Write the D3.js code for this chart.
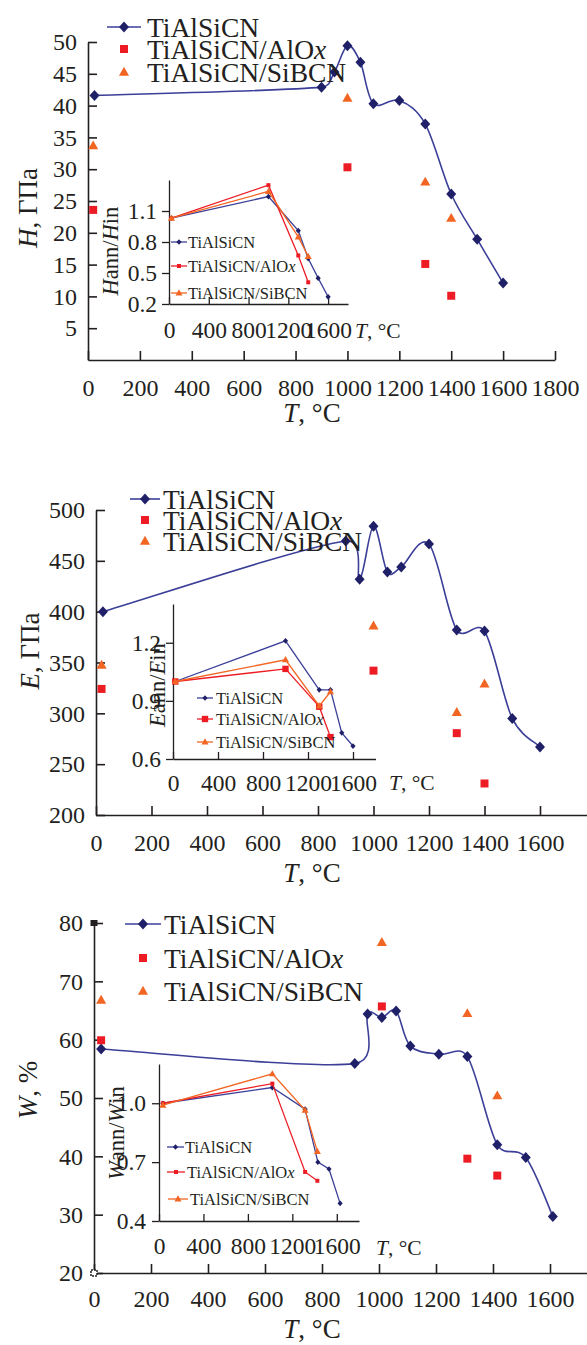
<!DOCTYPE html>
<html>
<head>
<meta charset="utf-8">
<script src="https://cdn.jsdelivr.net/npm/d3@7"></script>
<style>
  html, body { margin: 0; padding: 0; background: #fff; }
  svg { display: block; }
</style>
</head>
<body>
<svg id="chart" width="587" height="1345"></svg>
<script>
// ---------------- data ----------------
// Hardness H, GPa, against annealing temperature T, °C
const hTemps      = [25, 900, 950, 1000, 1050, 1100, 1200, 1300, 1400, 1500, 1600];
const hTiAlSiCN   = [41.6, 42.9, 45.3, 49.4, 46.8, 40.3, 40.8, 37.1, 26.1, 19.0, 12.1];
const hCoatTemps  = [20, 1000, 1300, 1400];
const hAlOx       = [23.6, 30.3, 15.1, 10.1];
const hSiBCN      = [33.7, 41.2, 28.0, 22.3];
// H_ann / H_in
const hRatioTemps     = [25, 1000, 1300, 1400, 1500, 1600];
const hRatioTiAlSiCN  = [1.03, 1.24, 0.91, 0.64, 0.45, 0.27];
const hRatioCoatTemps = [25, 1000, 1300, 1400];
const hRatioAlOx      = [1.03, 1.35, 0.67, 0.41];
const hRatioSiBCN     = [1.03, 1.29, 0.85, 0.66];

// Young's modulus E, GPa
const eTemps      = [25, 900, 950, 1000, 1050, 1100, 1200, 1300, 1400, 1500, 1600];
const eTiAlSiCN   = [400, 469.5, 432, 484, 439, 444, 466.5, 382, 381, 295, 267];
const eCoatTemps  = [20, 1000, 1300, 1400];
const eAlOx       = [324, 342, 280.5, 231];
const eSiBCN      = [347.5, 386, 301, 329];
// E_ann / E_in
const eRatioTemps     = [20, 1000, 1300, 1400, 1500, 1600];
const eRatioTiAlSiCN  = [1.0, 1.21, 0.957, 0.957, 0.735, 0.667];
const eRatioCoatTemps = [20, 1000, 1300, 1400];
const eRatioAlOx      = [1.0, 1.065, 0.87, 0.713];
const eRatioSiBCN     = [1.0, 1.112, 0.874, 0.947];

// Elastic recovery W, %
const wTemps      = [25, 915, 960, 1010, 1060, 1110, 1210, 1310, 1415, 1515, 1610];
const wTiAlSiCN   = [58.4, 55.9, 64.4, 63.8, 64.9, 58.9, 57.5, 57.1, 42.0, 39.8, 29.7];
const wCoatTemps  = [25, 1010, 1310, 1415];
const wAlOx       = [59.9, 65.7, 39.6, 36.7];
const wSiBCN      = [66.8, 76.7, 64.5, 50.4];
// W_ann / W_in
const wRatioTemps     = [35, 1020, 1315, 1430, 1530, 1630];
const wRatioTiAlSiCN  = [1.0, 1.08, 0.97, 0.70, 0.665, 0.49];
const wRatioCoatTemps = [35, 1020, 1315, 1425];
const wRatioAlOx      = [1.0, 1.10, 0.65, 0.605];
const wRatioSiBCN     = [0.99, 1.15, 0.965, 0.755];

const seriesNames = ['TiAlSiCN', 'TiAlSiCN/AlO', 'TiAlSiCN/SiBCN'];

// ---------------- style ----------------
const FONT = '"Liberation Serif", "Times New Roman", serif';
const INK = '#231f20';
const NAVY_LINE = '#3b3f98';
const NAVY_MARK = '#1f2068';
const RED = '#ed1c24';
const ORANGE = '#f26522';

const shapes = {
  diamond:  r => `M0,${-r * 1.1}L${r},0L0,${r * 1.1}L${-r},0Z`,
  square:   r => `M${-r},${-r}H${r}V${r}H${-r}Z`,
  triangle: r => `M0,${-r * 1.15}L${r * 1.1},${r * 0.8}L${-r * 1.1},${r * 0.8}Z`
};

const zip = (xs, ys) => xs.map((t, i) => ({ t, v: ys[i] }));

// Spreadsheet-style smoothed line: cubic Bezier segments with
// Catmull-Rom tangents, each handle limited to half its segment.
function smoothPath(pts) {
  const p = d3.path();
  const n = pts.length;
  p.moveTo(pts[0][0], pts[0][1]);
  for (let i = 0; i < n - 1; i++) {
    const p0 = pts[Math.max(i - 1, 0)], p1 = pts[i], p2 = pts[i + 1], p3 = pts[Math.min(i + 2, n - 1)];
    const seg = Math.hypot(p2[0] - p1[0], p2[1] - p1[1]);
    const limit = v => {
      const L = Math.hypot(v[0], v[1]), m = seg * 0.5;
      return L > m ? [v[0] * m / L, v[1] * m / L] : v;
    };
    const t1 = limit([(p2[0] - p0[0]) / 6, (p2[1] - p0[1]) / 6]);
    const t2 = limit([(p3[0] - p1[0]) / 6, (p3[1] - p1[1]) / 6]);
    p.bezierCurveTo(p1[0] + t1[0], p1[1] + t1[1], p2[0] - t2[0], p2[1] - t2[1], p2[0], p2[1]);
  }
  return p.toString();
}

const svg = d3.select('#chart').attr('font-family', FONT);

function richText(sel, parts) {
  parts.forEach(([s, it]) => sel.append('tspan').attr('font-style', it ? 'italic' : 'normal').text(s));
  return sel;
}

function styleAxis(g, fontSize, width) {
  g.attr('font-family', FONT).attr('font-size', fontSize);
  g.select('.domain').attr('stroke', INK).attr('stroke-width', width);
  g.selectAll('.tick line').attr('stroke', INK).attr('stroke-width', width);
  g.selectAll('.tick text').attr('fill', INK);
}

function drawMarkers(g, data, x, y, shape, r, color) {
  g.append('g').selectAll('path').data(data).join('path')
    .attr('transform', d => `translate(${x(d.t)},${y(d.v)})`)
    .attr('d', shapes[shape](r))
    .attr('fill', color);
}

function drawPanel(p) {
  const g = svg.append('g');
  const x = d3.scaleLinear().domain(p.xDomain).range(p.xRange);
  const y = d3.scaleLinear().domain(p.yDomain).range(p.yRange);

  // main axes (ticks point inward)
  const gx = g.append('g').attr('transform', `translate(0,${p.yRange[0]})`)
    .call(d3.axisBottom(x).tickValues(p.xTicks).tickSizeInner(-9).tickSizeOuter(0)
      .tickPadding(p.xPad).tickFormat(d3.format('d')));
  styleAxis(gx, 24, 1.6);
  const gy = g.append('g').attr('transform', `translate(${p.xRange[0]},0)`)
    .call(d3.axisLeft(y).tickValues(p.yTicks).tickSizeInner(-9).tickSizeOuter(0)
      .tickPadding(11).tickFormat(d3.format('d')));
  styleAxis(gy, 24, 1.6);

  // axis titles
  richText(g.append('text').attr('x', p.xTitle[0]).attr('y', p.xTitle[1])
    .attr('text-anchor', 'middle').attr('dominant-baseline', 'central')
    .attr('font-size', 27).attr('fill', INK), [['T', true], [', °C', false]]);
  richText(g.append('text')
    .attr('transform', `translate(${p.yTitle[0]},${p.yTitle[1]}) rotate(-90)`)
    .attr('text-anchor', 'middle').attr('dominant-baseline', 'central')
    .attr('font-size', 27).attr('fill', INK), p.yTitleParts);

  // inset
  const q = p.inset;
  const xi = d3.scaleLinear().domain([0, 1800]).range(q.xRange);
  const yi = d3.scaleLinear().domain(q.yDomain).range(q.yRange);
  const gxi = g.append('g').attr('transform', `translate(0,${q.yRange[0]})`)
    .call(d3.axisBottom(xi).tickValues([0, 400, 800, 1200, 1600]).tickSizeInner(-7).tickSizeOuter(0)
      .tickPadding(q.xPad).tickFormat(d3.format('d')));
  styleAxis(gxi, 23.5, 1.3);
  const gyi = g.append('g').attr('transform', `translate(${q.xRange[0]},0)`)
    .call(d3.axisLeft(yi).tickValues(q.yTicks).tickSizeInner(7).tickSizeOuter(0)
      .tickPadding(q.yPad).tickFormat(d3.format('.1f')));
  styleAxis(gyi, 23.5, 1.3);
  richText(g.append('text').attr('x', q.xTitle[0]).attr('y', q.xTitle[1])
    .attr('dominant-baseline', 'central').attr('font-size', 21.5).attr('fill', INK),
    [['T', true], [', °C', false]]);
  richText(g.append('text')
    .attr('transform', `translate(${q.yTitle[0]},${q.yTitle[1]}) rotate(-90)`)
    .attr('text-anchor', 'middle').attr('dominant-baseline', 'central')
    .attr('font-size', 22.5).attr('fill', INK), q.yTitleParts);

  const lineI = d3.line().x(d => xi(d.t)).y(d => yi(d.v));
  const insetSeries = [
    { data: zip(q.tempsMain, q.main), color: NAVY_LINE, mark: NAVY_MARK, shape: 'diamond', r: 2.6 },
    { data: zip(q.tempsCoat, q.alox), color: RED, mark: RED, shape: 'square', r: q.sqR },
    { data: zip(q.tempsCoat, q.sibcn), color: ORANGE, mark: ORANGE, shape: 'triangle', r: 3.2 }
  ];
  insetSeries.forEach(s => {
    g.append('path').datum(s.data).attr('d', lineI)
      .attr('fill', 'none').attr('stroke', s.color).attr('stroke-width', 1.3);
    drawMarkers(g, s.data, xi, yi, s.shape, s.r, s.mark);
  });

  // inset legend
  insetSeries.forEach((s, i) => {
    const L = q.legend[i];
    g.append('line').attr('x1', L[0]).attr('x2', L[1]).attr('y1', L[3]).attr('y2', L[3])
      .attr('stroke', s.color).attr('stroke-width', 1.3);
    g.append('path').attr('transform', `translate(${(L[0] + L[1]) / 2},${L[3]})`)
      .attr('d', shapes[s.shape](s.r)).attr('fill', s.mark);
    const t = g.append('text').attr('x', L[2]).attr('y', L[3])
      .attr('dominant-baseline', 'central').attr('font-size', 16.5).attr('fill', INK);
    richText(t, i === 1 ? [[seriesNames[1], false], ['x', true]] : [[seriesNames[i], false]]);
  });

  // main curve (smoothed) and markers
  const mainData = zip(p.temps, p.main);
  g.append('path')
    .attr('d', smoothPath(mainData.map(d => [x(d.t), y(d.v)])))
    .attr('fill', 'none').attr('stroke', NAVY_LINE).attr('stroke-width', 1.6);
  drawMarkers(g, mainData, x, y, 'diamond', 5, NAVY_MARK);
  drawMarkers(g, zip(p.coatTemps, p.alox), x, y, 'square', 4, RED);
  drawMarkers(g, zip(p.coatTemps, p.sibcn), x, y, 'triangle', 4.6, ORANGE);

  // main legend
  const lg = p.legend;
  g.append('line').attr('x1', lg.line[0]).attr('x2', lg.line[1]).attr('y1', lg.rows[0]).attr('y2', lg.rows[0])
    .attr('stroke', NAVY_LINE).attr('stroke-width', 1.6);
  const mx = (lg.line[0] + lg.line[1]) / 2;
  g.append('path').attr('transform', `translate(${mx},${lg.rows[0]})`).attr('d', shapes.diamond(5)).attr('fill', NAVY_MARK);
  g.append('path').attr('transform', `translate(${mx},${lg.rows[1]})`).attr('d', shapes.square(4)).attr('fill', RED);
  g.append('path').attr('transform', `translate(${mx},${lg.rows[2]})`).attr('d', shapes.triangle(4.6)).attr('fill', ORANGE);
  lg.rows.forEach((ry, i) => {
    const t = g.append('text').attr('x', lg.textX).attr('y', ry)
      .attr('dominant-baseline', 'central').attr('font-size', 27.5).attr('fill', INK);
    richText(t, i === 1 ? [[seriesNames[1], false], ['x', true]] : [[seriesNames[i], false]]);
  });
  return { g, x, y };
}

// ---------------- panels ----------------
drawPanel({
  xDomain: [0, 1800], xRange: [88, 555], xTicks: d3.range(0, 1801, 200), xPad: 19,
  yDomain: [0, 50], yRange: [360, 42], yTicks: d3.range(5, 51, 5),
  xTitle: [312, 413], yTitle: [28, 208], yTitleParts: [['H', true], [', ГПа', false]],
  temps: hTemps, main: hTiAlSiCN, coatTemps: hCoatTemps, alox: hAlOx, sibcn: hSiBCN,
  legend: { line: [107, 141], textX: 147, rows: [27, 49, 72] },
  inset: {
    xRange: [169, 348], yDomain: [0.2, 1.4], yRange: [304, 180], yTicks: [0.2, 0.5, 0.8, 1.1],
    xPad: 17, yPad: 5, xTitle: [355, 331], yTitle: [110, 251],
    yTitleParts: [['H', true], ['ann/', false], ['H', true], ['in', false]],
    tempsMain: hRatioTemps, main: hRatioTiAlSiCN, tempsCoat: hRatioCoatTemps,
    alox: hRatioAlOx, sibcn: hRatioSiBCN, sqR: 2,
    legend: [[171, 187, 188, 242], [171, 187, 188, 266], [171, 187, 188, 293]]
  }
});

drawPanel({
  xDomain: [0, 1800], xRange: [96, 595.5], xTicks: d3.range(0, 1601, 200), xPad: 19,
  yDomain: [200, 500], yRange: [815, 510], yTicks: d3.range(200, 501, 50),
  xTitle: [312, 873], yTitle: [30, 651], yTitleParts: [['E', true], [', ГПа', false]],
  temps: eTemps, main: eTiAlSiCN, coatTemps: eCoatTemps, alox: eAlOx, sibcn: eSiBCN,
  legend: { line: [130, 160], textX: 163, rows: [499, 520, 541] },
  inset: {
    xRange: [173, 375.5], yDomain: [0.6, 1.4], yRange: [759, 604], yTicks: [0.6, 0.9, 1.2],
    xPad: 15, yPad: 5, xTitle: [389, 783], yTitle: [157, 685],
    yTitleParts: [['E', true], ['ann/', false], ['E', true], ['in', false]],
    tempsMain: eRatioTemps, main: eRatioTiAlSiCN, tempsCoat: eRatioCoatTemps,
    alox: eRatioAlOx, sibcn: eRatioSiBCN, sqR: 3.2,
    legend: [[197, 213, 216, 698], [197, 213, 216, 719], [197, 213, 216, 742]]
  }
});

const w = drawPanel({
  xDomain: [0, 1800], xRange: [94, 607], xTicks: d3.range(0, 1601, 200), xPad: 17,
  yDomain: [20, 80], yRange: [1273, 923], yTicks: d3.range(20, 81, 10),
  xTitle: [312, 1329], yTitle: [28, 1090], yTitleParts: [['W', true], [', %', false]],
  temps: wTemps, main: wTiAlSiCN, coatTemps: wCoatTemps, alox: wAlOx, sibcn: wSiBCN,
  legend: { line: [125, 161], textX: 164, rows: [924, 958, 991] },
  inset: {
    xRange: [159, 359], yDomain: [0.4, 1.2], yRange: [1221, 1064], yTicks: [0.4, 0.7, 1.0],
    xPad: 16, yPad: 6, xTitle: [376, 1248], yTitle: [116, 1133],
    yTitleParts: [['W', true], ['ann/', false], ['W', true], ['in', false]],
    tempsMain: wRatioTemps, main: wRatioTiAlSiCN, tempsCoat: wRatioCoatTemps,
    alox: wRatioAlOx, sibcn: wRatioSiBCN, sqR: 2,
    legend: [[167, 184, 185, 1147], [167, 185, 187, 1172], [168, 188, 190, 1199]]
  }
});

// small end markers sitting on the W axis
w.g.append('rect').attr('x', w.x(0) - 3.5).attr('y', w.y(80) - 3).attr('width', 7).attr('height', 6).attr('fill', INK);
w.g.append('rect').attr('x', w.x(0) - 3).attr('y', w.y(20) - 3).attr('width', 6).attr('height', 6)
  .attr('fill', '#fff').attr('stroke', INK).attr('stroke-width', 1.5).attr('stroke-dasharray', '2,1');
</script>
</body>
</html>
